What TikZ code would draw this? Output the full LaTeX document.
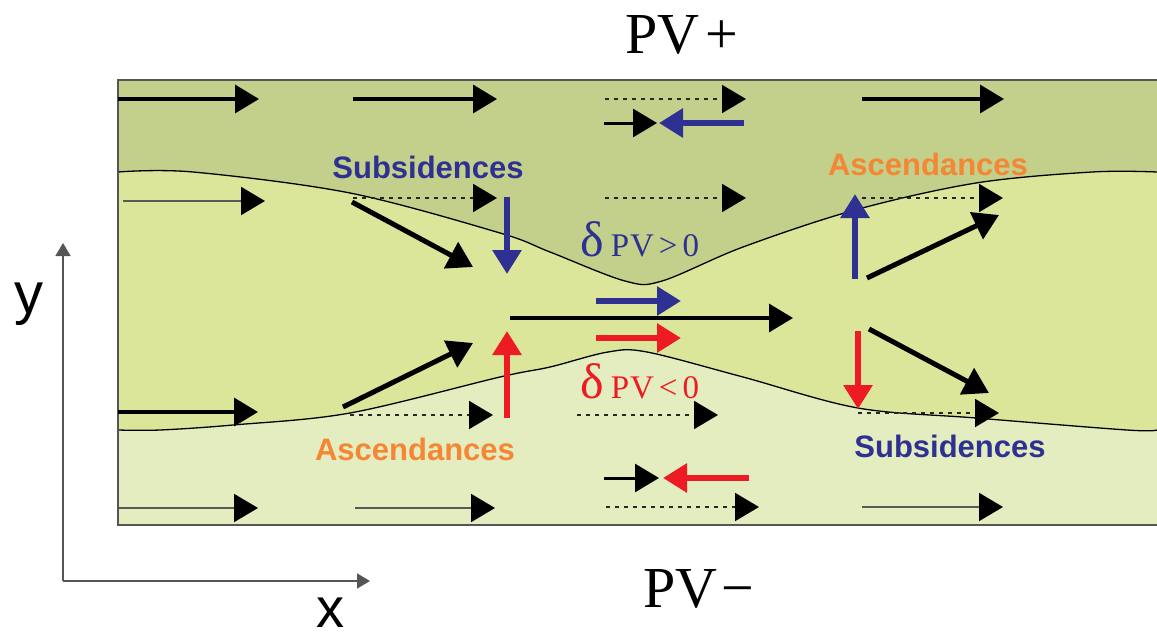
\documentclass[tikz,border=0pt]{standalone}
\usepackage{fontspec}
\setmainfont{Liberation Serif}
\newfontfamily\sansf{Liberation Sans}
\usetikzlibrary{arrows.meta}
\definecolor{topg}{HTML}{C3D08B}
\definecolor{midg}{HTML}{DCE69B}
\definecolor{botg}{HTML}{E4EDBF}
\definecolor{pvblue}{HTML}{2E3192}
\definecolor{pvred}{HTML}{ED1C24}
\definecolor{pvorange}{HTML}{F58634}
\definecolor{framegray}{HTML}{555555}
\tikzset{
  head/.style={-{Triangle[length=24pt,width=28pt,color=black]}},
  blk/.style={head, line width=3.5pt, draw=black},
  thin/.style={head, line width=2pt, draw=black!65},
  dots/.style={head, line width=2pt, draw=black!85, dash pattern=on 4pt off 5pt},
  diag/.style={line width=5pt, draw=black, -{Triangle[length=25pt,width=29pt]}},
  colarr/.style={line width=6pt, -{Triangle[length=24pt,width=28pt]}},
  boundary/.style={line width=1.3pt, draw=black},
  lbl/.style={font=\sansf\bfseries\fontsize{31}{31}\selectfont, anchor=base},
  pvtxt/.style={font=\fontsize{58}{58}\selectfont, anchor=base, inner sep=0pt},
  axis/.style={line width=1.6pt, draw=framegray, -{Triangle[length=13pt,width=15pt]}},
}
\begin{document}
\begin{tikzpicture}[x=1pt,y=-1pt]
\useasboundingbox (0,0) rectangle (1157,637);
% background regions
\fill[midg] (118,80) rectangle (1157,525);
\fill[topg] (118,80) -- plot[smooth, tension=0.55] coordinates {(118,172) (193,172) (350,193) (500,233) (550,252) (625,281) (662,281) (743,247) (855,210) (976,183) (1092,172) (1157,172)} -- (1157,80) -- cycle;
\fill[botg] (118,525) -- plot[smooth, tension=0.55] coordinates {(118,430) (160,430) (233,425) (350,413) (500,377) (550,367) (608,352) (647,352) (743,377) (858,408) (976,418) (1127,430) (1157,430)} -- (1157,525) -- cycle;
\draw[boundary] plot[smooth, tension=0.55] coordinates {(118,172) (193,172) (350,193) (500,233) (550,252) (625,281) (662,281) (743,247) (855,210) (976,183) (1092,172) (1157,172)};
\draw[boundary] plot[smooth, tension=0.55] coordinates {(118,430) (160,430) (233,425) (350,413) (500,377) (550,367) (608,352) (647,352) (743,377) (858,408) (976,418) (1127,430) (1157,430)};
% frame
\draw[framegray, line width=2pt] (1157,80) -- (118,80) -- (118,525) -- (1157,525);

% row 1
\draw[blk] (118,99) -- (259,99);
\draw[blk] (353,99) -- (497,99);
\draw[dots] (605,99) -- (746,99);
\draw[blk] (862,99) -- (1004,99);
\draw[blk, line width=3pt] (604,123) -- (657,123);
\draw[colarr, pvblue] (744,123) -- (659,123);

% row 2
\draw[thin] (123,201) -- (265,201);
\draw[dots] (353,198) -- (497,198);
\draw[diag] (352,202) -- (473,267);
\draw[colarr, pvblue] (507,197) -- (507,274);
\draw[dots] (605,198) -- (746,198);
\draw[colarr, pvblue] (855,279) -- (855,194);
\draw[dots] (862,198) -- (1003,198);
\draw[diag] (867,278) -- (999,215);

% middle
\draw[blk] (510,318) -- (793,318);
\draw[colarr, pvblue] (596,301) -- (681,301);
\draw[colarr, pvred] (596,338) -- (681,338);

% row lower
\draw[colarr, pvred] (507,418) -- (507,331);
\draw[diag] (343,407) -- (473,343);
\draw[blk] (118,412) -- (258,412);
\draw[dots] (350,415) -- (493,415);
\draw[dots] (577,415) -- (718,415);
\draw[colarr, pvred] (858,331) -- (858,409);
\draw[diag] (869,329) -- (989,393);
\draw[dots] (858,413) -- (999,413);

% bottom
\draw[thin] (118,508) -- (258,508);
\draw[thin] (355,508) -- (495,508);
\draw[blk, line width=3pt] (604,478) -- (659,478);
\draw[colarr, pvred] (749,478) -- (663,478);
\draw[dots] (606,507) -- (759,507);
\draw[thin] (862,507) -- (1003,507);

% labels
\node[lbl, text=pvblue] (subtop) at (428,178) {Subsidences};
\node[lbl, text=pvorange] (asctop) at (928,175) {Ascendances};
\node[lbl, text=pvorange] (ascbot) at (415,460) {Ascendances};
\node[lbl, text=pvblue] (subbot) at (950,457) {Subsidences};

\node[anchor=base west, inner sep=0pt, text=pvblue] (dpvp) at (580,256)
  {{\fontsize{50}{50}\selectfont δ}\hspace{7pt}{\fontsize{33}{33}\selectfont P\hspace{1pt}V\hspace{5pt}>\hspace{5pt}0}};
\node[anchor=base west, inner sep=0pt, text=pvred] (dpvm) at (580,398)
  {{\fontsize{50}{50}\selectfont δ}\hspace{7pt}{\fontsize{33}{33}\selectfont P\hspace{1pt}V\hspace{5pt}<\hspace{5pt}0}};

\node[pvtxt] (pvplus) at (682,53) {PV\hspace{6pt}+};
\node[pvtxt] (pvminus) at (699,607) {PV\hspace{4pt}−};

% axes
\coordinate (orig) at (63,581);
\coordinate (ytip) at (63,243);
\coordinate (xtip) at (370,581);
\draw[axis] (orig) -- (ytip);
\draw[axis] (orig) -- (xtip);
\node[font=\sansf\fontsize{58}{58}\selectfont, anchor=base, inner sep=0pt] (ylab) at (29,313) {y};
\node[font=\sansf\fontsize{56}{56}\selectfont, anchor=base, inner sep=0pt] (xlab) at (330,627) {x};
\end{tikzpicture}
\end{document}
